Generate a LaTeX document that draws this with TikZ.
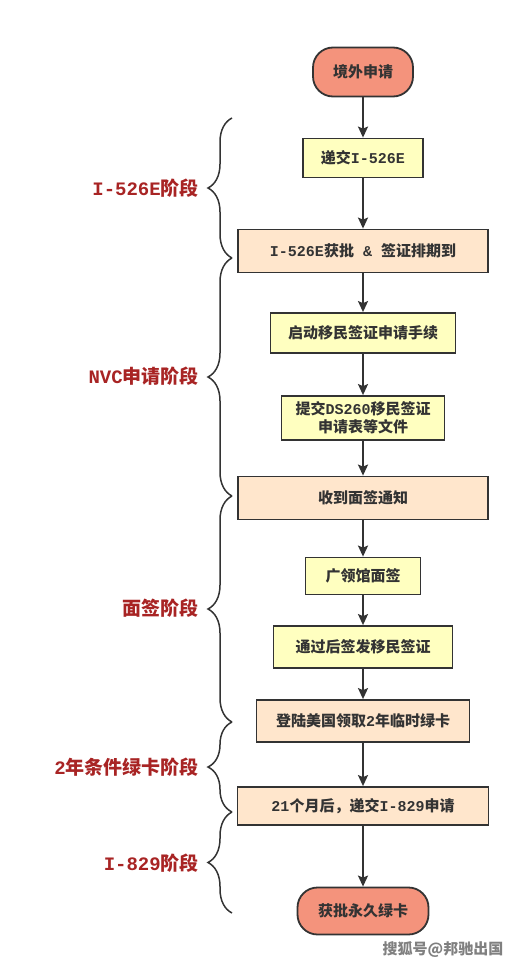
\documentclass[tikz,border=0pt]{standalone}
\usepackage{fontspec}
\setmainfont{Noto Sans CJK SC}
\newfontfamily\latfont{Liberation Mono}
\usetikzlibrary{arrows.meta,decorations.pathreplacing}
\definecolor{endred}{HTML}{F4937C}
\definecolor{stepyellow}{HTML}{FFFFC0}
\definecolor{steppeach}{HTML}{FFE6CC}
\definecolor{linegray}{HTML}{333333}
\definecolor{stagered}{HTML}{A82424}
\newcommand{\lat}[1]{{\latfont #1}}

\begin{document}
\begin{tikzpicture}[x=1pt,y=-1pt,->,>={Stealth[length=11pt,width=10pt,inset=2pt]},
  line width=1.8pt,draw=linegray,
  end node/.style={rectangle,rounded corners=20pt,draw=linegray,fill=endred,
    font=\bfseries\fontsize{15}{18}\selectfont,text=linegray,minimum height=49pt,inner sep=0pt},
  plain step/.style={rectangle,draw=linegray,fill=stepyellow,align=center,
    font=\bfseries\fontsize{15}{18}\selectfont,text=linegray,inner sep=0pt},
  key step/.style={plain step,fill=steppeach},
  stage/.style={anchor=east,text=stagered,font=\bfseries\fontsize{19}{22}\selectfont},
  stage brace/.style={-,decorate,decoration={brace,amplitude=24pt},line width=1.5pt}]

  \useasboundingbox (0,0) rectangle (520,966);

  \node[end node,minimum width=100pt] (apply) at (363,72) {境外申请};
  \node[plain step,minimum width=120pt,minimum height=39pt] (file526) at (363,158) {递交\lat{I-526E}};
  \node[key step,minimum width=250pt,minimum height=43pt] (approve526) at (363,251) {\lat{I-526E}获批\lat{\ \&\ }签证排期到};
  \node[plain step,minimum width=185pt,minimum height=40pt] (startnvc) at (363,333) {启动移民签证申请手续};
  \node[plain step,minimum width=163pt,minimum height=44pt] (ds260) at (363,418) {提交\lat{DS260}移民签证\\申请表等文件};
  \node[key step,minimum width=250pt,minimum height=43pt] (notice) at (363,498) {收到面签通知};
  \node[plain step,minimum width=115pt,minimum height=37pt] (interview) at (363,576) {广领馆面签};
  \node[plain step,minimum width=179pt,minimum height=42pt] (visa) at (363,647) {通过后签发移民签证};
  \node[key step,minimum width=213pt,minimum height=42pt] (landing) at (363,721) {登陆美国领取\lat{2}年临时绿卡};
  \node[key step,minimum width=251pt,minimum height=38pt] (file829) at (363,806) {\lat{21}个月后，递交\lat{I-829}申请};
  \node[end node,minimum width=131pt,minimum height=47pt] (greencard) at (363,911) {获批永久绿卡};

  \path (apply) edge (file526)
    (file526) edge (approve526)
    (approve526) edge (startnvc)
    (startnvc) edge (ds260)
    (ds260) edge (notice)
    (notice) edge (interview)
    (interview) edge (visa)
    (visa) edge (landing)
    (landing) edge (file829)
    (file829) edge (greencard);

  % stages
  \draw[stage brace] (232,258) -- (232,118);
  \draw[stage brace] (232,496) -- (232,258);
  \draw[stage brace] (232,722) -- (232,496);
  \draw[stage brace] (232,812) -- (232,722);
  \draw[stage brace] (232,913) -- (232,812);

  \node[stage] (stage526) at (203,188) {\lat{I-526E}阶段};
  \node[stage] (stagenvc) at (203,376) {\lat{NVC}申请阶段};
  \node[stage] (stageinterview) at (203,608) {面签阶段};
  \node[stage] (stagecond) at (203,767) {\lat{2}年条件绿卡阶段};
  \node[stage] (stage829) at (203,863) {\lat{I-829}阶段};

  \node[font=\bfseries\fontsize{15}{18}\selectfont,text=gray] (mark) at (443,949) {搜狐号@邦驰出国};
\end{tikzpicture}
\end{document}
